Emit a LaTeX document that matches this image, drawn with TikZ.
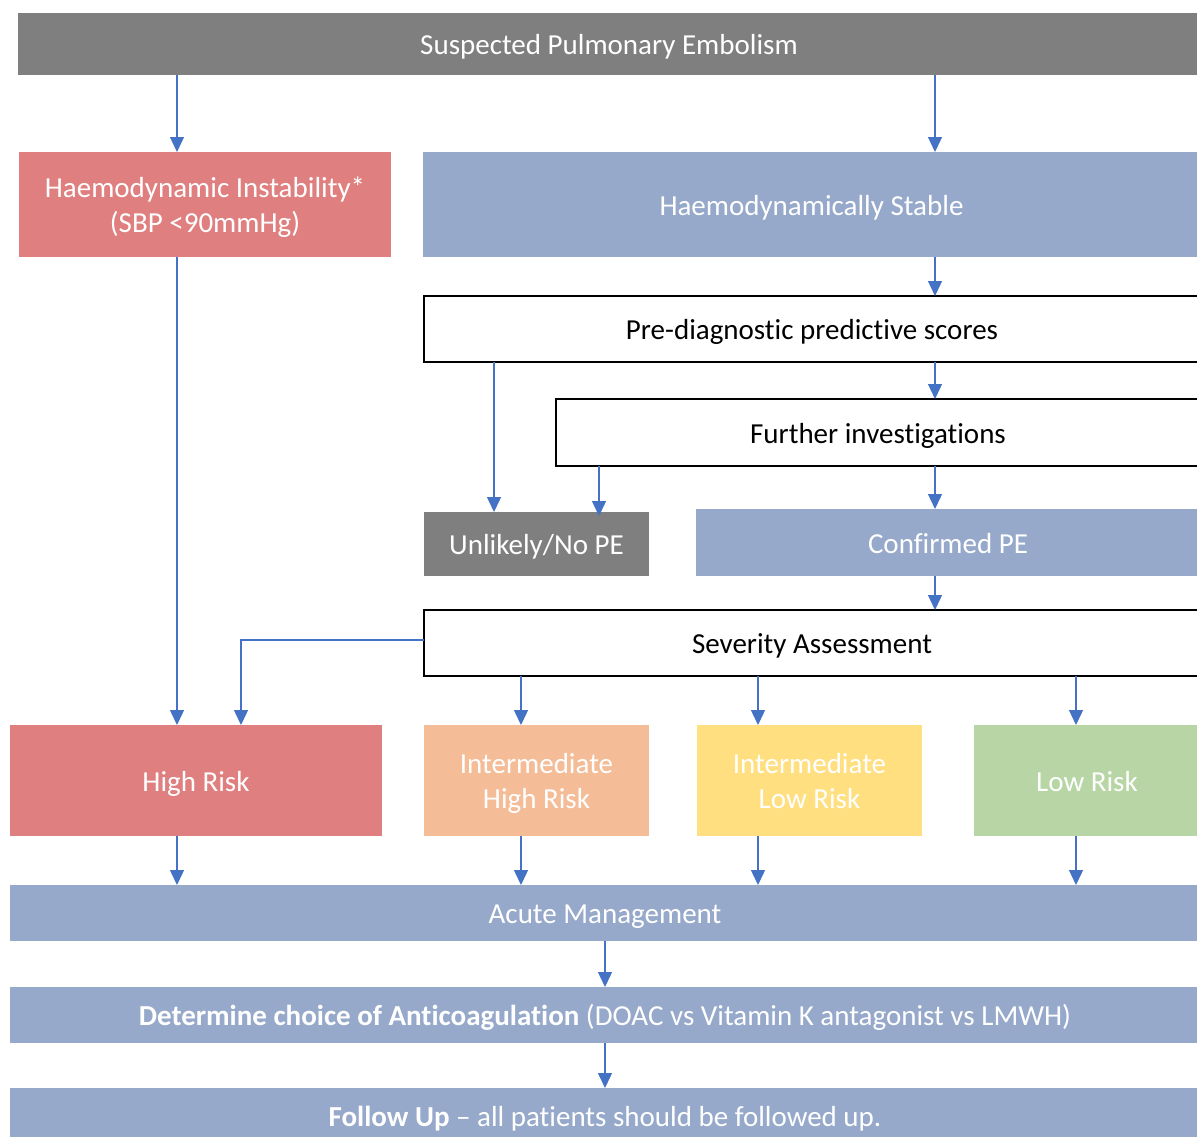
\documentclass[tikz,border=0pt]{standalone}
\usepackage{fontspec}
\setmainfont{Carlito}[Ligatures=NoCommon]
\usetikzlibrary{arrows.meta}
\definecolor{pgray}{HTML}{7F7F7F}
\definecolor{pred}{HTML}{E07F7F}
\definecolor{pblue}{HTML}{96A9CA}
\definecolor{porange}{HTML}{F4BC97}
\definecolor{pyellow}{HTML}{FFDF80}
\definecolor{pgreen}{HTML}{B8D5A5}
\definecolor{parrow}{HTML}{4472C4}
\newcommand{\boxtext}[1]{\raisebox{-3.5pt}[\height][\depth]{\begin{tabular}{@{}c@{}}#1\end{tabular}}}
\tikzset{
  box/.style={rectangle, inner sep=0pt, outer sep=0pt, align=center, font=\fontsize{29}{35}\selectfont},
  filled/.style={box, fill=#1, text=white},
  framed/.style={box, draw=black, line width=1.8pt, fill=white, text=black},
  arr/.style={draw=parrow, line width=1.4pt, -{Triangle[width=14pt,length=15pt]}},
}
\begin{document}
\begin{tikzpicture}[x=1pt,y=-1pt]
\useasboundingbox (0,0) rectangle (1197,1136);
\clip (0,0) rectangle (1197,1136);
% boxes: centre x, centre y, width, height
\node[filled=pgray, minimum width=1182pt, minimum height=62pt] (top) at (609,44) {\boxtext{Suspected Pulmonary Embolism}};
\node[filled=pred, minimum width=372pt, minimum height=105pt] (hinst) at (205,204.5) {\boxtext{Haemodynamic Instability*\\(SBP <90mmHg)}};
\node[filled=pblue, minimum width=777pt, minimum height=105pt] (hstab) at (811.5,204.5) {\boxtext{Haemodynamically Stable}};
\node[framed, minimum width=776pt, minimum height=66pt] (pre) at (812,329) {\boxtext{Pre-diagnostic predictive scores}};
\node[framed, minimum width=644pt, minimum height=67pt] (fur) at (878,432.5) {\boxtext{Further investigations}};
\node[filled=pgray, minimum width=225pt, minimum height=64pt] (unl) at (536.5,544) {\boxtext{Unlikely/No PE}};
\node[filled=pblue, minimum width=504pt, minimum height=67pt] (conf) at (948,542.5) {\boxtext{Confirmed PE}};
\node[framed, minimum width=776pt, minimum height=66pt] (sev) at (812,643) {\boxtext{Severity Assessment}};
\node[filled=pred, minimum width=372pt, minimum height=111pt] (high) at (196,780.5) {\boxtext{High Risk}};
\node[filled=porange, minimum width=225pt, minimum height=111pt] (ihr) at (536.5,780.5) {\boxtext{Intermediate\\High Risk}};
\node[filled=pyellow, minimum width=225pt, minimum height=111pt] (ilr) at (809.5,780.5) {\boxtext{Intermediate\\Low Risk}};
\node[filled=pgreen, minimum width=226pt, minimum height=111pt] (low) at (1087,780.5) {\boxtext{Low Risk}};
\node[filled=pblue, minimum width=1190pt, minimum height=56pt] (acute) at (605,913) {\boxtext{Acute Management}};
\node[filled=pblue, minimum width=1190pt, minimum height=56pt] (det) at (605,1015) {\boxtext{\textbf{Determine choice of Anticoagulation} (DOAC vs Vitamin K antagonist vs LMWH)}};
\node[filled=pblue, minimum width=1190pt, minimum height=56pt] (fol) at (605,1116) {\boxtext{\textbf{Follow Up} -- all patients should be followed up.}};
% connector x positions
\coordinate (xa) at (177,0);
\coordinate (xb) at (935,0);
\coordinate (xc) at (494,0);
\coordinate (xd) at (599,0);
\coordinate (xe) at (241,640);
\coordinate (xf) at (521,0);
\coordinate (xg) at (758,0);
\coordinate (xh) at (1076,0);
\coordinate (xm) at (605,0);
% connectors
\draw[arr] (top.south -| xa) -- (hinst.north -| xa);
\draw[arr] (top.south -| xb) -- (hstab.north -| xb);
\draw[arr] (hstab.south -| xb) -- (pre.north -| xb);
\draw[arr] (pre.south -| xc) -- (unl.north -| xc);
\draw[arr] (pre.south -| xb) -- (fur.north -| xb);
\draw[arr] (fur.south -| xd) -- ([yshift=-4pt]unl.north -| xd);
\draw[arr] (fur.south -| xb) -- (conf.north -| xb);
\draw[arr] (conf.south -| xb) -- (sev.north -| xb);
\draw[arr] (hinst.south -| xa) -- (high.north -| xa);
\draw[arr] (sev.west |- xe) -- (xe) -- (high.north -| xe);
\draw[arr] (sev.south -| xf) -- (ihr.north -| xf);
\draw[arr] (sev.south -| xg) -- (ilr.north -| xg);
\draw[arr] (sev.south -| xh) -- (low.north -| xh);
\draw[arr] (high.south -| xa) -- (acute.north -| xa);
\draw[arr] (ihr.south -| xf) -- (acute.north -| xf);
\draw[arr] (ilr.south -| xg) -- (acute.north -| xg);
\draw[arr] (low.south -| xh) -- (acute.north -| xh);
\draw[arr] (acute.south -| xm) -- (det.north -| xm);
\draw[arr] (det.south -| xm) -- (fol.north -| xm);
\end{tikzpicture}
\end{document}
